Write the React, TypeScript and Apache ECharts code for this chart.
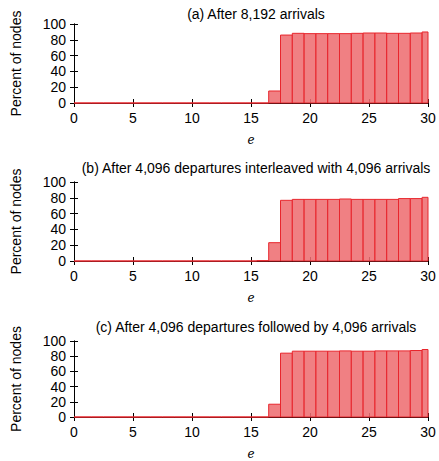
import React, { useEffect, useRef } from "react";
import * as echarts from "echarts";

const eValues = [0,1,2,3,4,5,6,7,8,9,10,11,12,13,14,15,16,17,18,19,20,21,22,23,24,25,26,27,28,29,30];
const arrivalsA = [0,0,0,0,0,0,0,0,0,0,0,0,0,0,0,0,0,15.2,86,88.2,87.8,87.8,87.8,87.8,88.2,88.6,88.6,88.2,88.2,88.6,89.9];
const interleavedB = [0,0,0,0,0,0,0,0,0,0,0,0,0,0,0,0,0.5,23.2,76.8,78,78,78,78,78.5,78,78,78,78,79,79,80.6];
const followedC = [0,0,0,0,0,0,0,0,0,0,0,0,0,0,0,0,0,16.8,84,86.6,86.6,86.6,86.6,87,86.6,86.6,87,87,87,87.5,88.8];
const titles = [
  "(a) After 8,192 arrivals",
  "(b) After 4,096 departures interleaved with 4,096 arrivals",
  "(c) After 4,096 departures followed by 4,096 arrivals",
];
const xTicks = [0, 5, 10, 15, 20, 25, 30];
const yTicks = [0, 20, 40, 60, 80, 100];

const FONT = "Liberation Sans, Arial, Helvetica, sans-serif";

export default function App() {
  const ref = useRef<HTMLDivElement>(null);
  useEffect(() => {
    if (!ref.current) return;
    const chart = echarts.init(ref.current, null, { renderer: "svg" });
    const seriesData = [arrivalsA, interleavedB, followedC];
    const grids = [
      { left: 74, width: 354, top: 24, height: 79 },
      { left: 74, width: 354, top: 182, height: 79 },
      { left: 74, width: 354, top: 341, height: 77 },
    ];
    const titleTops = [2, 156, 315];
    const xAxis: any[] = [];
    const yAxis: any[] = [];
    const series: any[] = [];
    grids.forEach((g, i) => {
      xAxis.push({
        type: "value", gridIndex: i, min: 0, max: 30, interval: 5,
        position: "bottom",
        name: "e", nameLocation: "middle", nameGap: 31,
        nameTextStyle: { fontFamily: "DejaVu Serif, Liberation Serif, serif", fontStyle: "italic", fontSize: 12, color: "#000" },
        axisLine: { show: true, lineStyle: { color: "#000", width: 1 } },
        axisTick: { show: true, inside: true, length: 4, lineStyle: { color: "#000" } },
        axisLabel: { show: true, margin: 8, fontSize: 14, fontFamily: FONT, color: "#000",
          formatter: (v: number) => (xTicks.includes(v) ? String(v) : "") },
        splitLine: { show: false },
      });
      xAxis.push({
        type: "value", gridIndex: i, min: 0, max: 30, interval: 5, position: "top",
        axisLine: { show: true, lineStyle: { color: "#000", width: 1 } },
        axisTick: { show: true, inside: true, length: 4, lineStyle: { color: "#000" } },
        axisLabel: { show: false }, splitLine: { show: false },
      });
      yAxis.push({
        type: "value", gridIndex: i, min: 0, max: 100, interval: 20, position: "left",
        name: "Percent of nodes", nameLocation: "middle", nameGap: 51, nameRotate: 90,
        nameTextStyle: { fontFamily: FONT, fontSize: 14, color: "#000" },
        axisLine: { show: true, lineStyle: { color: "#000", width: 1 } },
        axisTick: { show: true, inside: true, length: 4, lineStyle: { color: "#000" } },
        axisLabel: { show: true, margin: 8, fontSize: 14, fontFamily: FONT, color: "#000",
          formatter: (v: number) => (yTicks.includes(v) ? String(v) : "") },
        splitLine: { show: false },
      });
      yAxis.push({
        type: "value", gridIndex: i, min: 0, max: 100, interval: 20, position: "right",
        axisLine: { show: true, lineStyle: { color: "#000", width: 1 } },
        axisTick: { show: true, inside: true, length: 4, lineStyle: { color: "#000" } },
        axisLabel: { show: false }, splitLine: { show: false },
      });
      const vals = seriesData[i];
      series.push({
        type: "custom",
        xAxisIndex: i * 2,
        yAxisIndex: i * 2,
        data: eValues.map((e, k) => [e, vals[k]]),
        encode: { x: 0, y: 1 },
        z: 1,
        renderItem: (params: any, api: any) => {
          const x = api.value(0);
          const y = api.value(1);
          const p0 = api.coord([x - 0.5, 0]);
          const p1 = api.coord([x + 0.5, y]);
          const rect = { x: p0[0], y: p1[1], width: p1[0] - p0[0], height: p0[1] - p1[1] };
          const clipped = echarts.graphic.clipRectByRect(rect, {
            x: params.coordSys.x, y: params.coordSys.y - 2,
            width: params.coordSys.width, height: params.coordSys.height + 2,
          });
          if (!clipped) return null;
          return {
            type: "rect",
            shape: clipped,
            style: { fill: "rgba(238,110,114,0.88)", stroke: "#e8262d", lineWidth: 1 },
          };
        },
      });
    });
    chart.setOption({
      animation: false,
      backgroundColor: "#fff",
      title: titles.map((t, i) => ({
        text: t, left: 251, top: titleTops[i], textAlign: "center",
        textStyle: { fontFamily: FONT, fontSize: 14, fontWeight: "normal", color: "#000" },
      })),
      grid: grids,
      xAxis, yAxis, series,
    });
    return () => chart.dispose();
  }, []);
  return (
    <div ref={ref} style={{ position: "fixed", left: 0, top: 0, width: 439, height: 461 }} />
  );
}
